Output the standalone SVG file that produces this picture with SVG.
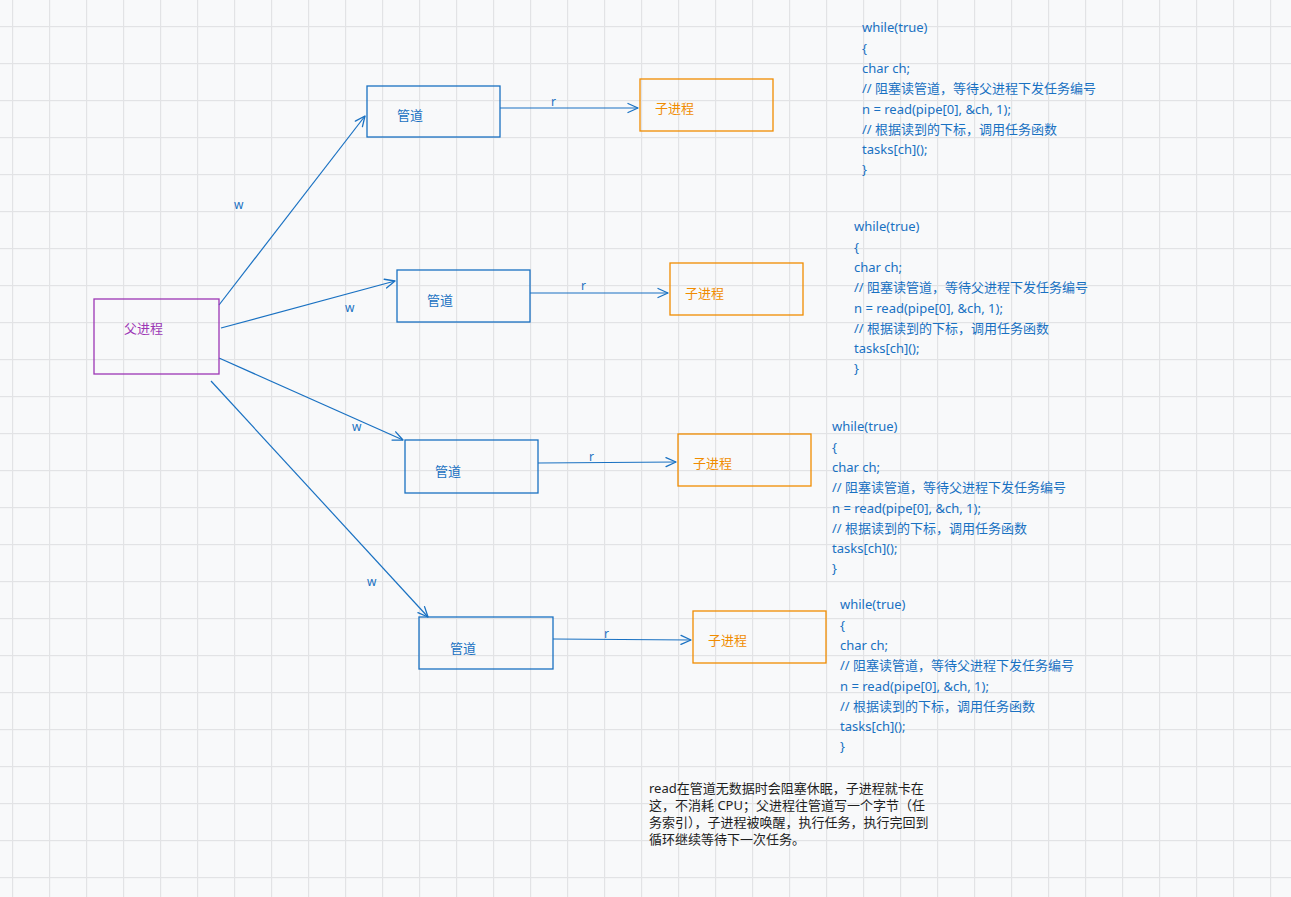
<svg xmlns="http://www.w3.org/2000/svg" width="1291" height="897" viewBox="0 0 1291 897">
<defs>
<pattern id="grid" patternUnits="userSpaceOnUse" x="12" y="26" width="37" height="37">
<rect x="0" y="0" width="1.2" height="37" fill="#e2e3e5"/>
<rect x="0" y="0" width="37" height="1.2" fill="#e2e3e5"/>
</pattern>
<marker id="arr" viewBox="0 0 12 12" refX="11" refY="6" markerWidth="12" markerHeight="12" markerUnits="userSpaceOnUse" orient="auto">
<path d="M1,1.5 L11,6 L1,10.5" fill="none" stroke="#1971c2" stroke-width="1.3" stroke-linecap="round" stroke-linejoin="round"/>
</marker>
<style>
.pipe{fill:none;stroke:#1971c2;stroke-width:1.3}
.child{fill:none;stroke:#f08c00;stroke-width:1.3}
.parent{fill:none;stroke:#9c36b5;stroke-width:1.3}
.lbl{font-family:"Noto Sans","Noto Sans CJK SC",sans-serif;font-size:13px}
.bt{fill:#1971c2}
.ot{fill:#f08c00}
.pt{fill:#9c36b5}
.code{font-family:"Noto Sans","Noto Sans CJK SC",sans-serif;font-size:13px;fill:#1971c2}
.note{font-family:"Noto Sans","Noto Sans CJK SC",sans-serif;font-size:13px;fill:#1e1e1e}
.edge{fill:none;stroke:#1971c2;stroke-width:1.2;marker-end:url(#arr)}
.el{font-family:"Noto Sans",sans-serif;font-size:12px;fill:#1971c2}
</style>
</defs>
<rect width="1291" height="897" fill="#f8f9fa"/>
<rect width="1291" height="897" fill="url(#grid)"/>

<g id="connectors">
<line class="edge" x1="219" y1="305" x2="365" y2="116"/>
<line class="edge" x1="221" y1="328" x2="395" y2="281"/>
<line class="edge" x1="219" y1="358" x2="403" y2="440"/>
<line class="edge" x1="211" y1="381" x2="428" y2="617"/>
<line class="edge" x1="500" y1="108" x2="638" y2="108"/>
<line class="edge" x1="530" y1="293" x2="668" y2="293"/>
<line class="edge" x1="538" y1="463" x2="676" y2="462"/>
<line class="edge" x1="553" y1="639" x2="691" y2="640"/>
<text class="el" x="234" y="209">w</text>
<text class="el" x="345" y="312">w</text>
<text class="el" x="352" y="431">w</text>
<text class="el" x="367" y="586">w</text>
<text class="el" x="551" y="106">r</text>
<text class="el" x="581" y="290">r</text>
<text class="el" x="589" y="461">r</text>
<text class="el" x="604" y="638">r</text>
</g>

<g id="parent">
<rect class="parent" x="94" y="299" width="125" height="75"/>
<text class="lbl pt" x="124" y="333">父进程</text>
</g>

<g id="pipe1">
<rect class="pipe" x="367" y="86" width="133" height="51"/>
<text class="lbl bt" x="397" y="120">管道</text>
</g>
<g id="child1">
<rect class="child" x="640" y="79" width="133" height="52"/>
<text class="lbl ot" x="655" y="113">子进程</text>
</g>
<g id="pipe2">
<rect class="pipe" x="397" y="270" width="133" height="52"/>
<text class="lbl bt" x="427" y="305">管道</text>
</g>
<g id="child2">
<rect class="child" x="670" y="263" width="133" height="52"/>
<text class="lbl ot" x="685" y="298">子进程</text>
</g>
<g id="pipe3">
<rect class="pipe" x="405" y="440" width="133" height="53"/>
<text class="lbl bt" x="435" y="476">管道</text>
</g>
<g id="child3">
<rect class="child" x="678" y="434" width="133" height="52"/>
<text class="lbl ot" x="693" y="468">子进程</text>
</g>
<g id="pipe4">
<rect class="pipe" x="419" y="617" width="134" height="52"/>
<text class="lbl bt" x="450" y="653">管道</text>
</g>
<g id="child4">
<rect class="child" x="693" y="611" width="133" height="52"/>
<text class="lbl ot" x="708" y="645">子进程</text>
</g>

<g id="code1" class="code">
<text x="862" y="32">while(true)</text>
<text x="862" y="52.5">{</text>
<text x="862" y="73">char ch;</text>
<text x="862" y="93">// 阻塞读管道，等待父进程下发任务编号</text>
<text x="862" y="113.5">n = read(pipe[0], &amp;ch, 1);</text>
<text x="862" y="133.5">// 根据读到的下标，调用任务函数</text>
<text x="862" y="154">tasks[ch]();</text>
<text x="862" y="174">}</text>
</g>
<g id="code2" class="code">
<text x="854" y="231">while(true)</text>
<text x="854" y="251.5">{</text>
<text x="854" y="272">char ch;</text>
<text x="854" y="292">// 阻塞读管道，等待父进程下发任务编号</text>
<text x="854" y="312.5">n = read(pipe[0], &amp;ch, 1);</text>
<text x="854" y="332.5">// 根据读到的下标，调用任务函数</text>
<text x="854" y="353">tasks[ch]();</text>
<text x="854" y="373">}</text>
</g>
<g id="code3" class="code">
<text x="832" y="431">while(true)</text>
<text x="832" y="451.5">{</text>
<text x="832" y="472">char ch;</text>
<text x="832" y="492">// 阻塞读管道，等待父进程下发任务编号</text>
<text x="832" y="512.5">n = read(pipe[0], &amp;ch, 1);</text>
<text x="832" y="532.5">// 根据读到的下标，调用任务函数</text>
<text x="832" y="553">tasks[ch]();</text>
<text x="832" y="573">}</text>
</g>
<g id="code4" class="code">
<text x="840" y="609">while(true)</text>
<text x="840" y="629.5">{</text>
<text x="840" y="650">char ch;</text>
<text x="840" y="670">// 阻塞读管道，等待父进程下发任务编号</text>
<text x="840" y="690.5">n = read(pipe[0], &amp;ch, 1);</text>
<text x="840" y="710.5">// 根据读到的下标，调用任务函数</text>
<text x="840" y="731">tasks[ch]();</text>
<text x="840" y="751">}</text>
</g>

<g id="note" class="note">
<text x="649" y="793">read在管道无数据时会阻塞休眠，子进程就卡在</text>
<text x="649" y="810">这，不消耗 CPU；父进程往管道写一个字节（任</text>
<text x="649" y="827">务索引），子进程被唤醒，执行任务，执行完回到</text>
<text x="649" y="844">循环继续等待下一次任务。</text>
</g>
</svg>
